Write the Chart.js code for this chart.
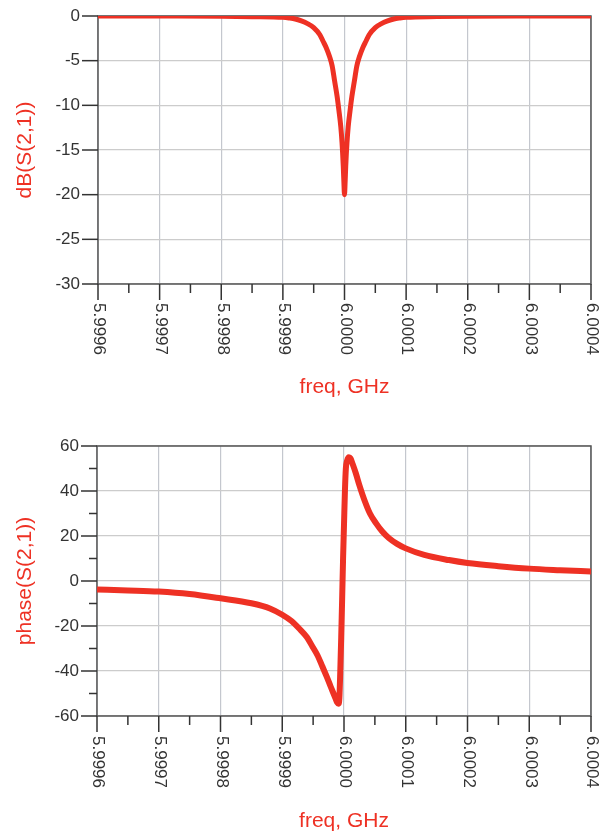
<!DOCTYPE html>
<html>
<head>
<meta charset="utf-8">
<script src="https://cdn.jsdelivr.net/npm/chart.js@4.4.0/dist/chart.umd.min.js"></script>
<style>
  body { margin: 0; background: #fff; }
  .box { position: absolute; left: 0; width: 603px; }
  #top { top: 0; height: 400px; }
  #bot { top: 418px; height: 416px; }
</style>
</head>
<body>
<div class="box" id="top"><canvas id="dbChart"></canvas></div>
<div class="box" id="bot"><canvas id="phaseChart"></canvas></div>
<script>
// x axis (GHz)
const freqTicks = [5.9996, 5.9997, 5.9998, 5.9999, 6.0, 6.0001, 6.0002, 6.0003, 6.0004];
const freqTickLabels = ["5.9996", "5.9997", "5.9998", "5.9999", "6.0000", "6.0001", "6.0002", "6.0003", "6.0004"];

const dbTicks = [0, -5, -10, -15, -20, -25, -30];
const phaseTicks = [60, 40, 20, 0, -20, -40, -60];

// dB(S(2,1))
const dbFreq = [
  5.9996, 5.9997, 5.9998, 5.99985, 5.9999, 5.99991, 5.99992, 5.99993, 5.99994, 5.99995,
  5.99996, 5.999965, 5.99997, 5.999976, 5.99998, 5.999984, 5.999988, 5.999991, 5.999994,
  5.999996, 5.999998, 5.999999, 6.0,
  6.000001, 6.000002, 6.000004, 6.000006, 6.000009, 6.000012, 6.000016, 6.00002, 6.000024,
  6.00003, 6.000035, 6.00004, 6.00005, 6.00006, 6.00007, 6.00008, 6.00009, 6.0001, 6.00015,
  6.0002, 6.0003, 6.0004
];
const dbValues = [
  0, -0.01, -0.03, -0.07, -0.15, -0.22, -0.33, -0.55, -0.85, -1.3,
  -2.1, -2.8, -3.5, -4.6, -5.6, -7.3, -9.0, -10.6, -12.4,
  -14.2, -16.8, -18.6, -20,
  -18.6, -16.8, -14.2, -12.4, -10.6, -9.0, -7.3, -5.6, -4.6,
  -3.5, -2.8, -2.1, -1.3, -0.85, -0.55, -0.33, -0.22, -0.15, -0.07,
  -0.03, -0.01, 0
];

// phase(S(2,1))
const phaseFreq = [
  5.9996, 5.99965, 5.9997, 5.99975, 5.9998, 5.99985, 5.99988, 5.9999, 5.999915, 5.999927,
  5.99994, 5.999949, 5.999957, 5.999965, 5.999972, 5.9999785, 5.999983, 5.999986, 5.999989,
  5.999991, 5.9999925, 5.999994, 5.9999955, 5.999997, 5.9999985, 6.0, 6.0000015, 6.000003,
  6.000005, 6.000008, 6.0000105, 6.000014, 6.000019, 6.000025, 6.000033, 6.000042, 6.000052,
  6.000062, 6.000073, 6.000086, 6.0001, 6.00013, 6.00017, 6.0002, 6.00025, 6.0003, 6.00035, 6.0004
];
const phaseValues = [
  -3.8, -4.2, -4.7, -5.8, -7.7, -9.9, -12.2, -15.0, -17.8, -21,
  -25, -29.2, -33, -38, -42.5, -47, -50, -52, -54,
  -54.5, -52, -40, -25, -8, 10, 25, 40, 50,
  53.5, 55, 54.5, 52, 48, 42.5, 36, 30, 25.6,
  22, 19, 16.5, 14.5, 11.6, 9.3, 8.0, 6.6, 5.5, 4.8, 4.2
];

const RED = "#ee3124";
const FONT = '"Liberation Sans", Arial, sans-serif';

const axisMarks = {
  id: "axisMarks",
  beforeDatasetsDraw(chart) {
    const { ctx, chartArea: a } = chart;
    ctx.save();
    ctx.strokeStyle = "#555";
    ctx.lineWidth = 1.5;
    ctx.strokeRect(a.left, a.top, a.right - a.left, a.bottom - a.top);
    ctx.restore();
  },
  afterDraw(chart, args, opts) {
    const { ctx, chartArea: a, scales } = chart;
    const xs = scales.x, ys = scales.y;
    const line = (x1, y1, x2, y2) => {
      ctx.beginPath(); ctx.moveTo(x1, y1); ctx.lineTo(x2, y2); ctx.stroke();
    };
    ctx.save();
    ctx.strokeStyle = "#333";
    ctx.lineWidth = 1.5;
    freqTicks.forEach((v, i) => {
      const px = xs.getPixelForValue(v);
      line(px, a.bottom, px, a.bottom + 16);
      if (i < freqTicks.length - 1) {
        const mx = xs.getPixelForValue((v + freqTicks[i + 1]) / 2);
        line(mx, a.bottom, mx, a.bottom + 9);
      }
    });
    const yt = opts.yTicks;
    yt.forEach((v, i) => {
      const py = ys.getPixelForValue(v);
      line(a.left - 16, py, a.left, py);
      if (opts.yMinor && i < yt.length - 1) {
        const my = ys.getPixelForValue((v + yt[i + 1]) / 2);
        line(a.left - 8, my, a.left, my);
      }
    });
    // rotated freq labels
    ctx.fillStyle = "#333";
    ctx.font = "17px " + FONT;
    ctx.textAlign = "left";
    ctx.textBaseline = "middle";
    freqTickLabels.forEach((t, i) => {
      const px = xs.getPixelForValue(freqTicks[i]);
      ctx.save();
      ctx.translate(px + 1, a.bottom + opts.labelGap);
      ctx.rotate(Math.PI / 2);
      ctx.fillText(t, 0, 0);
      ctx.restore();
    });
    ctx.restore();
  }
};

function makeChart(id, freq, values, cfg) {
  const ctx = document.getElementById(id).getContext("2d");
  return new Chart(ctx, {
    type: "scatter",
    data: {
      datasets: [{
        data: freq.map((f, i) => ({ x: f, y: values[i] })),
        showLine: true,
        borderColor: RED,
        backgroundColor: RED,
        borderWidth: cfg.lineWidth,
        pointRadius: 0,
        cubicInterpolationMode: "monotone"
      }]
    },
    plugins: [axisMarks],
    options: {
      responsive: true,
      maintainAspectRatio: false,
      animation: false,
      devicePixelRatio: 1,
      layout: { padding: { top: cfg.topPad, right: 12, left: 0, bottom: 0 } },
      plugins: {
        legend: { display: false },
        tooltip: { enabled: false },
        axisMarks: { yTicks: cfg.yTicks, yMinor: cfg.yMinor, labelGap: cfg.labelGap }
      },
      scales: {
        x: {
          type: "linear",
          min: 5.9996,
          max: 6.0004,
          afterBuildTicks: (s) => { s.ticks = freqTicks.map((v) => ({ value: v })); },
          afterFit: (s) => { s.height = cfg.xHeight; },
          ticks: { display: false },
          border: { display: false },
          grid: {
            drawTicks: false,
            color: "#c4c7ce",
            lineWidth: 1.2
          },
          title: {
            display: true,
            text: "freq, GHz",
            color: RED,
            font: { family: FONT, size: 21 },
            padding: { top: 0, bottom: 0 }
          }
        },
        y: {
          min: cfg.yMin,
          max: cfg.yMax,
          afterBuildTicks: (s) => { s.ticks = cfg.yTicks.map((v) => ({ value: v })); },
          afterFit: (s) => { s.width = cfg.yWidth; },
          border: { display: false },
          ticks: {
            color: "#333",
            padding: 2,
            font: { family: FONT, size: 17 },
            callback: (v) => String(v)
          },
          grid: {
            drawTicks: true,
            tickLength: 16,
            tickColor: "rgba(0,0,0,0)",
            color: "#cccccc",
            lineWidth: 1.2
          },
          title: {
            display: true,
            text: cfg.yTitle,
            color: RED,
            font: { family: FONT, size: 21 },
            padding: { top: 13, bottom: 0 }
          }
        }
      }
    }
  });
}

makeChart("dbChart", dbFreq, dbValues, {
  lineWidth: 5, topPad: 16, xHeight: 116, yWidth: 98, labelGap: 19,
  yMin: -30, yMax: 0, yTicks: dbTicks, yMinor: false, yTitle: "dB(S(2,1))"
});
makeChart("phaseChart", phaseFreq, phaseValues, {
  lineWidth: 6, topPad: 28, xHeight: 118, yWidth: 97, labelGap: 20,
  yMin: -60, yMax: 60, yTicks: phaseTicks, yMinor: true, yTitle: "phase(S(2,1))"
});
</script>
</body>
</html>
